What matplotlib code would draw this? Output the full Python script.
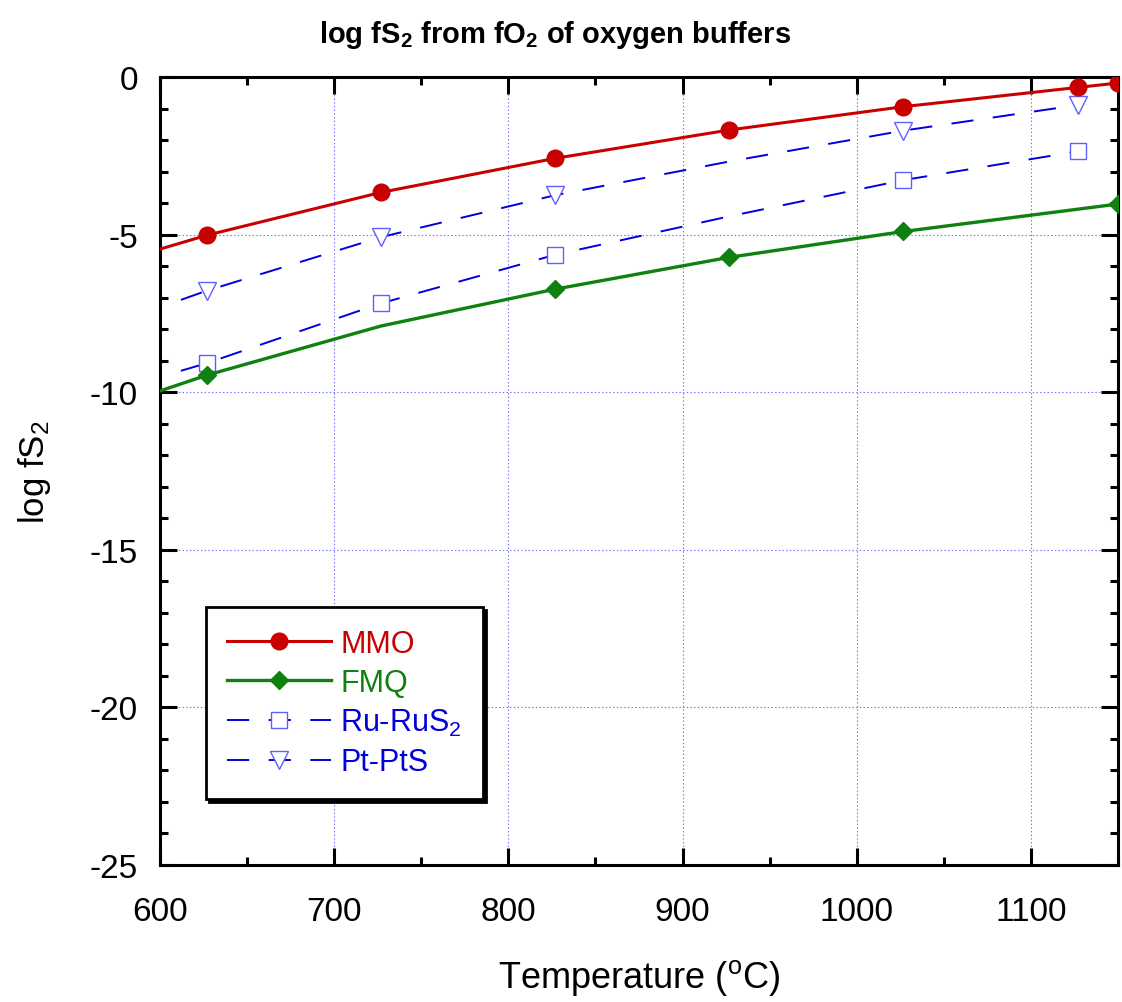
import numpy as np
import matplotlib
matplotlib.use('Agg')
import matplotlib.pyplot as plt
from matplotlib.ticker import MultipleLocator

plt.rcParams['font.family'] = ['Liberation Sans', 'DejaVu Sans']
plt.rcParams['mathtext.fontset'] = 'custom'
plt.rcParams['mathtext.rm'] = 'Liberation Sans'
plt.rcParams['mathtext.it'] = 'Liberation Sans'
plt.rcParams['mathtext.bf'] = 'Liberation Sans:bold'
plt.rcParams['axes.unicode_minus'] = False
plt.rcParams['lines.scale_dashes'] = False

# Data (temperature in C, log fS2)
t_mmo = [600, 626.85, 726.85, 826.85, 926.85, 1026.85, 1126.85, 1150]
mmo = [-5.46, -5.02, -3.66, -2.58, -1.68, -0.94, -0.33, -0.19]
mmo_marks = [1, 2, 3, 4, 5, 6, 7]

t_fmq = [600, 626.85, 726.85, 826.85, 926.85, 1026.85, 1150]
fmq = [-9.96, -9.46, -7.9, -6.73, -5.72, -4.90, -4.03]
fmq_marks = [1, 3, 4, 5, 6]

t_dash = [612, 626.85, 726.85, 826.85, 926.85, 1026.85, 1126.85]
ru = [-9.32, -9.08, -7.18, -5.64, -4.42, -3.27, -2.36]
pt = [-7.07, -6.78, -5.08, -3.75, -2.68, -1.70, -0.89]
dash_marks = [1, 2, 3, 5, 6]

fig = plt.figure(figsize=(11.22, 10.03), dpi=100)
ax = fig.add_axes([0.1426, 0.1366, 0.8538, 0.7856])

ax.plot(t_mmo, mmo, color='#c80000', lw=2.2, marker='o', ms=12,
        markevery=mmo_marks, label='MMO', zorder=4)
ax.plot(t_fmq, fmq, color='#108010', lw=2.4, marker='D', ms=9,
        markevery=fmq_marks, label='FMQ', zorder=4)
ax.plot(t_dash, ru, color='#0000dd', lw=1.4, dashes=(16, 14), marker='s', ms=12,
        mfc='white', mec='#6060ff', mew=1.0, markevery=dash_marks,
        label='Ru-RuS$_2$', zorder=3)
ax.plot(t_dash, pt, color='#0000dd', lw=1.4, dashes=(16, 14), marker='v', ms=13,
        mfc='white', mec='#6060ff', mew=1.0, markevery=dash_marks,
        label='Pt-PtS', zorder=3)

ax.set_xlim(600, 1150)
ax.set_ylim(-25, 0)
ax.xaxis.set_major_locator(MultipleLocator(100))
ax.xaxis.set_minor_locator(MultipleLocator(50))
ax.yaxis.set_major_locator(MultipleLocator(5))
ax.yaxis.set_minor_locator(MultipleLocator(1))
ax.tick_params(which='both', direction='in', top=True, right=True, width=2.2,
               labelsize=24)
ax.tick_params(which='major', length=12)
ax.tick_params(axis='x', which='major', pad=22)
ax.tick_params(axis='y', which='major', pad=16)
ax.tick_params(which='minor', length=6)
for s in ax.spines.values():
    s.set_linewidth(2.2)
ax.grid(True, which='major', color='#7070ff', ls=':', lw=0.8)

ax.set_xlabel('Temperature ($^{\\mathrm{o}}$C)', fontsize=26, labelpad=22)
ax.set_ylabel('log fS$_2$', fontsize=25, labelpad=26)
fig.text(0.495, 0.965, 'log fS$_\\mathbf{2}$ from fO$_\\mathbf{2}$ of oxygen buffers',
         ha='center', va='center', fontsize=21, fontweight='bold')

leg = ax.legend(loc='lower left', bbox_to_anchor=(0.048, 0.084), borderaxespad=0,
                fancybox=False, shadow={'color': 'black', 'alpha': 1}, fontsize=22,
                handlelength=3.4, labelspacing=0.3, borderpad=0.7,
                handletextpad=0.3, framealpha=1)
leg.get_frame().set_edgecolor('black')
leg.get_frame().set_linewidth(2.0)
for txt, c in zip(leg.get_texts(), ['#c80000', '#108010', '#0000dd', '#0000dd']):
    txt.set_color(c)

fig.savefig('out.png', dpi=100)
